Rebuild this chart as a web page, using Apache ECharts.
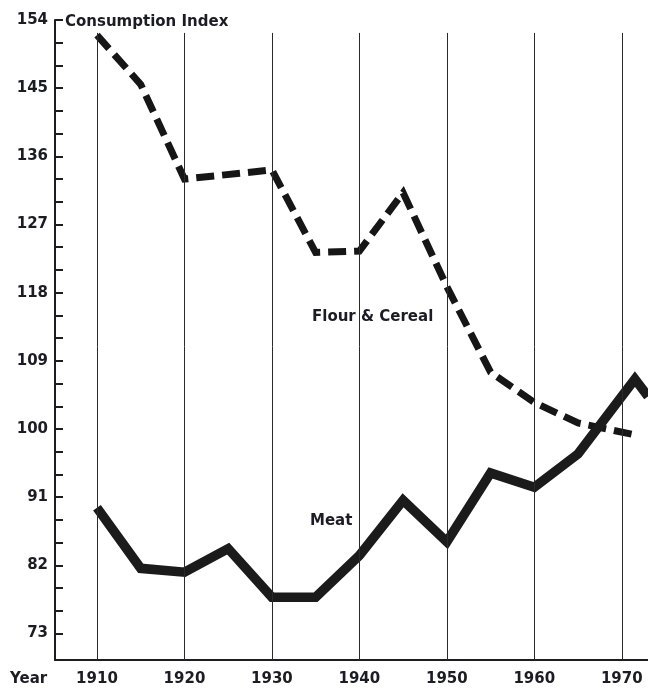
<!DOCTYPE html>
<html>
<head>
<meta charset="utf-8">
<script src="https://cdn.jsdelivr.net/npm/echarts@6/dist/echarts.min.js"></script>
<style>
    html, body { margin: 0; padding: 0; background: #fff; }
    #chart { width: 648px; height: 691px; }
</style>
</head>
<body>
<div id="chart"></div>
<script>
// values
const flourYears = [1910, 1915, 1920, 1930, 1935, 1940, 1945, 1950, 1955, 1960, 1965, 1972];
const flourValues = [152, 145.5, 133, 134.2, 123.3, 123.5, 131.2, 118.8, 107.5, 103.5, 100.8, 99.1];

const meatYears = [1910, 1915, 1920, 1925, 1930, 1935, 1940, 1945, 1950, 1955, 1960, 1965, 1971.5, 1973];
const meatValues = [89.6, 81.6, 81.1, 84.2, 77.8, 77.8, 83.3, 90.6, 85.1, 94.2, 92.3, 96.7, 106.6, 104.3];

const decadeLabels = [1910, 1920, 1930, 1940, 1950, 1960, 1970];
const yLabels = [73, 82, 91, 100, 109, 118, 127, 136, 145, 154];
const yTicks = [73, 76, 79, 82, 85, 88, 91, 94, 97, 100, 103, 106, 109, 112, 115, 118,
    121, 124, 127, 130, 133, 136, 139, 142, 145, 148, 151, 154];

const yMin = 69.5;
const yMax = 154;
const gridTopValue = 152.3; // vertical rules stop just under the title

const ink = '#1c1c24';
const font = 'DejaVu Sans';

const zip = (xs, ys) => xs.map((x, i) => [x, ys[i]]);

const chart = echarts.init(document.getElementById('chart'));

const option = {
    backgroundColor: '#fff',
    animation: false,
    grid: { left: 55, right: 0, top: 20, bottom: 31 },
    xAxis: {
        type: 'value',
        min: 1905.2,
        max: 1973,
        axisLine: { lineStyle: { color: ink, width: 2 } },
        axisTick: { show: false },
        splitLine: { show: false },
        axisLabel: {
            customValues: decadeLabels,
            formatter: (v) => String(v),
            margin: 12,
            color: ink,
            fontFamily: font,
            fontWeight: 'bold',
            fontSize: 15
        }
    },
    yAxis: {
        type: 'value',
        min: yMin,
        max: yMax,
        axisLine: { show: true, lineStyle: { color: ink, width: 2 } },
        axisTick: {
            show: true,
            inside: true,
            length: 8,
            customValues: yTicks,
            lineStyle: { color: ink, width: 2 }
        },
        splitLine: { show: false },
        axisLabel: {
            customValues: yLabels,
            margin: 7,
            color: ink,
            fontFamily: font,
            fontWeight: 'bold',
            fontSize: 15
        }
    },
    graphic: [
        {
            type: 'text', left: 65, top: 15,
            style: { text: 'Consumption Index', fill: ink, font: `bold 15px "${font}"` }
        },
        {
            type: 'text', left: 10, top: 672,
            style: { text: 'Year', fill: ink, font: `bold 15px "${font}"` }
        },
        {
            type: 'text', left: 312, top: 310,
            style: { text: 'Flour & Cereal', fill: ink, font: `bold 15px "${font}"` }
        },
        {
            type: 'text', left: 310, top: 514,
            style: { text: 'Meat', fill: ink, font: `bold 15px "${font}"` }
        }
    ],
    series: [
        {
            type: 'line',
            name: 'rules',
            data: [],
            silent: true,
            markLine: {
                silent: true,
                symbol: 'none',
                label: { show: false },
                lineStyle: { color: '#2a2a2a', width: 1, type: 'solid' },
                data: decadeLabels.map((y) => [
                    { coord: [y, yMin] },
                    { coord: [y, gridTopValue] }
                ])
            }
        },
        {
            type: 'line',
            name: 'Flour & Cereal',
            data: zip(flourYears, flourValues),
            showSymbol: false,
            lineStyle: { color: '#161616', width: 7, type: [18, 8], join: 'miter', cap: 'butt' }
        },
        {
            type: 'line',
            name: 'Meat',
            data: zip(meatYears, meatValues),
            showSymbol: false,
            lineStyle: { color: '#1b1b1b', width: 9.5, join: 'miter', miterLimit: 10 }
        }
    ]
};

chart.setOption(option);
</script>
</body>
</html>
